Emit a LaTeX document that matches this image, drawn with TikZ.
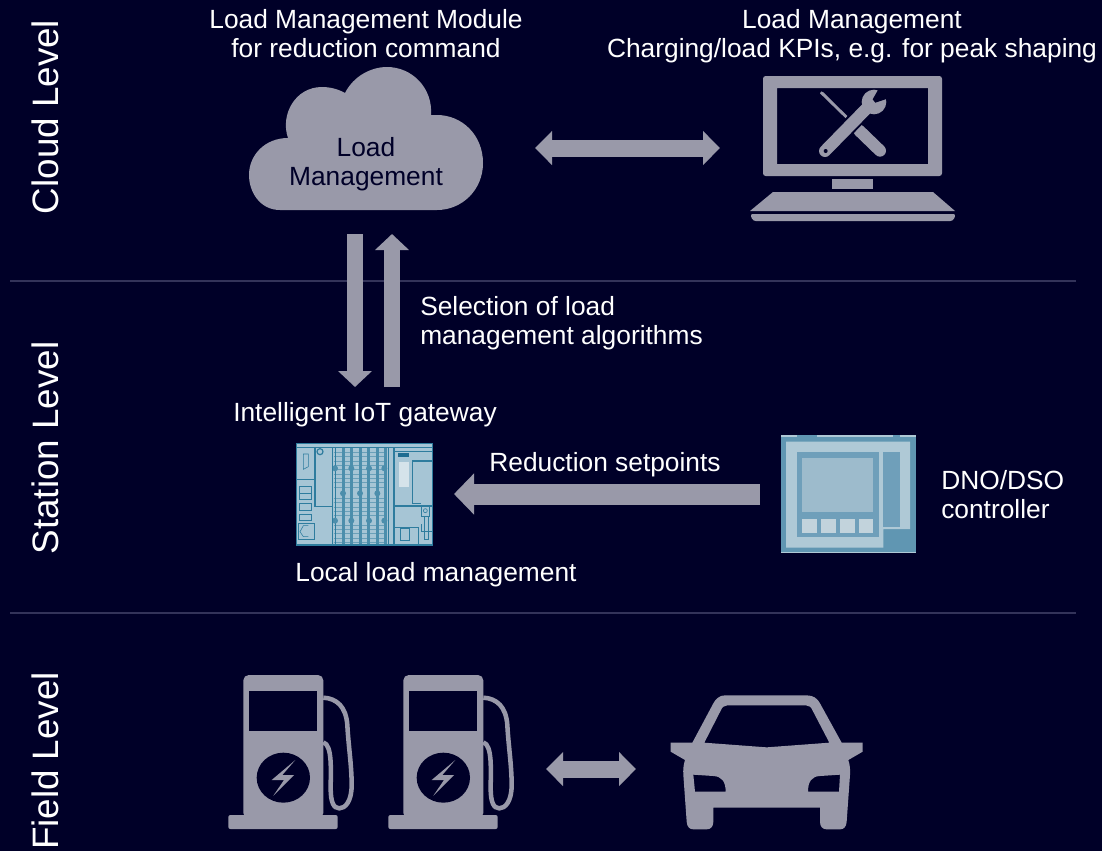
\documentclass[tikz,border=0pt]{standalone}
\usepackage{fontspec}
\setmainfont{Liberation Sans}
\usetikzlibrary{arrows.meta}

\definecolor{bgnavy}{HTML}{000028}
\definecolor{icongray}{HTML}{9999A9}
\definecolor{divline}{HTML}{33335A}
\definecolor{gwfill}{HTML}{A6C5D5}
\definecolor{gwline}{HTML}{2E7C9E}
\definecolor{gwdark}{HTML}{1F6C90}
\definecolor{gwlight}{HTML}{D5E3EA}
\definecolor{dnolight}{HTML}{AFC9D6}
\definecolor{dnomid}{HTML}{6F9FBA}
\definecolor{dnodark}{HTML}{6096B2}
\definecolor{dnoscreen}{HTML}{9DBBCC}
\definecolor{dnobtn}{HTML}{C2D3DC}

\tikzset{
  lbl/.style={text=white,inner sep=0pt,font=\fontsize{19.75}{21.75}\selectfont,align=center},
  lblleft/.style={lbl,align=left,anchor=west},
  level/.style={lbl,rotate=90,font=\fontsize{27.6}{30}\selectfont},
  divider/.style={draw=divline,line width=0.9pt},
  blockarrow/.style={draw=icongray,line width=12.5pt,-{Triangle[width=24.75pt,length=12pt]}},
  blockwide/.style={draw=icongray,line width=15.75pt,-{Triangle[width=30pt,length=15pt]}},
  blockboth/.style={draw=icongray,line width=12.75pt,{Triangle[width=24.75pt,length=12.75pt]}-{Triangle[width=24.75pt,length=12.75pt]}}
}

\begin{document}
\begin{tikzpicture}[x=0.75pt,y=-0.75pt]
      % Background
      \fill [bgnavy] (0,0) rectangle (1102,851);
      \draw [divider] (10,281) -- (1076,281);
      \draw [divider] (10,613) -- (1076,613);

      % Levels
      \node [level] (cloudlevel) at (45,117) {Cloud Level};
      \node [level] (stationlevel) at (45,448) {Station Level};
      \node [level] (fieldlevel) at (45,761) {Field Level};

      % Cloud
      \fill [icongray] (280,210) .. controls (260,210) and (249,192) .. (249,175)
      .. controls (249,155) and (265,138) .. (288,138)
      .. controls (280,115) and (295,87) .. (322,87)
      .. controls (330,87) and (338,89) .. (345,93)
      .. controls (353,77) and (370,67) .. (387,67)
      .. controls (412,67) and (433,88) .. (431,115)
      -- (437,115) .. controls (462,115) and (483,135) .. (483,163)
      .. controls (483,190) and (462,210) .. (437,210) -- cycle;
      \node [lbl,text=bgnavy] (cloud) at (366,164) {Load\\Management};
      \node [lbl] (module) at (366,34) {Load Management Module\\for reduction command};

      % Laptop
      \fill [icongray,rounded corners=2pt,even odd rule] (763,76) rectangle (942,176)
      [sharp corners] (777,88) rectangle (928,164);
      \fill [icongray] (832,179) rectangle (873,189);
      \fill [icongray] (773,192) -- (933,192) -- (955,211) -- (750,211) -- cycle;
      \fill [icongray,rounded corners=2pt] (750,214) -- (956,214) -- (953,221) -- (753,221) -- cycle;
      \node [lbl] (kpitext) at (852,36) {Load Management\\Charging/load KPIs, e.g. for peak shaping};

      % Tools on the screen
      \begin{scope}[shift={(730,60)},x=0.25pt,y=-0.25pt]
        \fill [icongray] (270,100) .. controls (270,94) and (276,92) .. (280,97) -- (352,168) -- (347,175) -- cycle;
        \draw [icongray,line width=9pt,line cap=round] (388,212) -- (450,272);
        \draw [bgnavy,line width=12pt] (285,273) -- (415,140);
        \draw [icongray,line width=9pt,line cap=round] (285,273) -- (415,140);
        \fill [icongray] (432,126) circle [radius=37];
        \fill [bgnavy] (428,118) -- (444,90) -- (475,87) -- (490,100) -- (469,117) -- (436,128) -- cycle;
        \fill [bgnavy] (287,273) circle [radius=6];
      \end{scope}

      % Cloud arrows
      \coordinate (cloudright) at (535,148);
      \coordinate (laptopleft) at (720,148);
      \coordinate (cloudbotl) at (355,234);
      \coordinate (gatewaytopl) at (355,387);
      \coordinate (gatewaytopr) at (392,387);
      \coordinate (cloudbotr) at (392,234);
      \draw [blockboth] (cloudright) -- (laptopleft);
      \draw [blockarrow] (cloudbotl) -- (gatewaytopl);
      \draw [blockarrow] (gatewaytopr) -- (cloudbotr);
      \node [lblleft] (selection) at (420,323.5) {Selection of load\\management algorithms};
      \node [lbl] (gatewaytext) at (365,415) {Intelligent IoT gateway};

      % Gateway
      \begin{scope}[shift={(285,435)},x=0.25pt,y=-0.25pt]
        \fill [gwfill] (35,25) rectangle (442,330);
        \fill [gwlight] (342,80) rectangle (372,157);
        \fill [gwdark] (338,55) rectangle (373,65);
        \begin{scope}[gwline,line width=0.45pt]
          \foreach \rungy in {52,65,78,91,104,117,130,143,156,190,203,216,229,242,270,283,296,309,322}
            \draw [gwline!50!gwfill,line width=0.6pt] (146,\rungy) -- (298,\rungy);
          \foreach \railx in {170,195,221,247,272,298}
            \fill [gwline!75!gwfill] (\railx,38) rectangle ++(9,292);
          \draw [line width=0.75pt] (150,38) -- (150,330);
          \draw [line width=0.75pt] (310,38) -- (310,330);
          \foreach \clipx/\clipy in {150/100,199/100,252/100,298/100,174/175,225/175,277/175,150/257,199/257,252/257,298/257}
            \fill [gwline!75!gwfill] (\clipx,\clipy) circle [radius=9];
          \draw (55,57) -- (70,57) -- (70,95) -- (55,103) -- cycle;
          \draw [line width=0.9pt] (105,50) circle [radius=9];
          \draw (43,155) rectangle (80,175);
          \draw (43,175) rectangle (80,192);
          \draw (43,205) rectangle (80,225);
          \draw (43,237) rectangle (80,255);
          \draw (40,265) rectangle (88,313);
          \draw (70,272) -- (55,272) -- (45,290) -- (55,305) -- (70,305);
          \draw [line width=0.9pt] (382,205) -- (382,78) -- (442,78);
          \draw [line width=0.9pt] (382,205) -- (408,205);
          \draw (345,280) -- (372,280) -- (372,315) -- (345,315) -- cycle;
          \draw [line width=0.75pt] (410,210) rectangle (433,245);
          \draw (421,227) circle [radius=6];
          \draw (418,245) rectangle (430,312);
          \draw (408,268) -- (408,290) -- (442,290);
        \end{scope}
        \begin{scope}[gwline,line width=0.9pt]
          \draw (35,25) rectangle (442,330);
          \draw (35,38) -- (442,38);
          \draw (35,133) -- (90,133);
          \draw (90,38) -- (90,215) -- (142,215);
          \draw (142,38) -- (142,330);
          \draw (327,38) -- (327,330);
          \draw (327,50) -- (442,50);
          \draw (327,213) -- (442,213);
          \draw (327,277) -- (400,277) -- (400,330);
        \end{scope}
      \end{scope}
      \node [lbl] (localtext) at (436,575) {Local load management};

      % DNO controller
      \begin{scope}[shift={(770,425)},x=0.25pt,y=-0.25pt]
        \fill [dnodark] (33,30) rectangle (437,383);
        \fill [dnolight] (33,30) rectangle (437,36);
        \fill [dnodark] (80,30) rectangle (140,36);
        \fill [dnodark] (368,30) rectangle (390,36);
        \fill [dnolight] (33,380) rectangle (437,383);
        \fill [dnolight] (48,50) -- (420,50) -- (420,312) -- (340,312) -- (340,368) -- (48,368) -- cycle;
        \fill [dnomid] (80,82) rectangle (328,337);
        \fill [dnoscreen] (97,100) rectangle (308,262);
        \foreach \btnx in {97,154,210,266}
          \fill [dnobtn] (\btnx,283) rectangle ++(44,42);
        \fill [dnomid] (340,82) rectangle (390,305);
      \end{scope}
      \node [lblleft] (dnotext) at (941,494.5) {DNO/DSO\\controller};

      % Setpoint arrow
      \coordinate (dnoleft) at (760,494);
      \coordinate (gatewayright) at (454,494);
      \draw [blockwide] (dnoleft) -- (gatewayright);
      \node [lbl] (setpoints) at (605,465) {Reduction setpoints};

      % Charging stations
      \foreach \pumpx in {0,160} {
        \begin{scope}[shift={(220+\pumpx,665)},x=0.25pt,y=-0.25pt]
          \fill [icongray,rounded corners=4pt] (70,460) -- (70,30) -- (310,30) -- (310,460) -- cycle;
          \fill [icongray,rounded corners=1.5pt] (25,492) -- (25,450) -- (353,450) -- (353,492) -- cycle;
          \fill [bgnavy] (87,77) rectangle (292,198);
          \fill [bgnavy] (190,338) ellipse [x radius=80,y radius=75];
          \fill [icongray] (226,285) -- (155,345) -- (192,345) -- (160,392) -- (222,330) -- (187,330) -- cycle;
          \draw [icongray,line width=3.4pt] (310,98)
          .. controls (350,100) and (378,125) .. (382,180)
          .. controls (385,240) and (395,300) .. (395,360)
          .. controls (395,410) and (375,430) .. (358,430)
          .. controls (340,430) and (332,410) .. (332,370)
          .. controls (332,320) and (338,240) .. (310,232);
        \end{scope}
      }

      % Station to car arrow
      \coordinate (pumpright) at (546,769);
      \coordinate (carleft) at (636,769);
      \draw [blockboth] (pumpright) -- (carleft);

      % Car
      \begin{scope}[shift={(530,680)},x=0.25pt,y=-0.25pt]
        \fill [icongray,even odd rule] (422,188) -- (487,188) -- (550,70)
        .. controls (558,55) and (570,46) .. (585,46) -- (830,46)
        .. controls (850,46) and (862,55) .. (870,70) -- (935,188) -- (998,188) -- (998,215) -- (955,240)
        .. controls (960,255) and (961,270) .. (960,285) -- (950,425)
        .. controls (949,440) and (942,448) .. (930,448) -- (890,448)
        .. controls (878,448) and (870,440) .. (870,425) -- (870,383) -- (550,383) -- (550,425)
        .. controls (550,440) and (542,448) .. (530,448) -- (490,448)
        .. controls (478,448) and (471,440) .. (470,425) -- (460,285)
        .. controls (459,270) and (460,255) .. (465,240) -- (422,215) -- cycle
        (523,188) -- (572,92) .. controls (576,82) and (582,76) .. (592,76) -- (828,76)
        .. controls (838,76) and (844,82) .. (848,92) -- (898,188) -- (710,202) -- cycle
        (490,284) -- (550,288) .. controls (575,289) and (587,305) .. (587,335) -- (495,335) -- cycle
        (930,284) -- (870,288) .. controls (845,289) and (834,305) .. (834,335) -- (927,335) -- cycle;
      \end{scope}
\end{tikzpicture}
\end{document}
